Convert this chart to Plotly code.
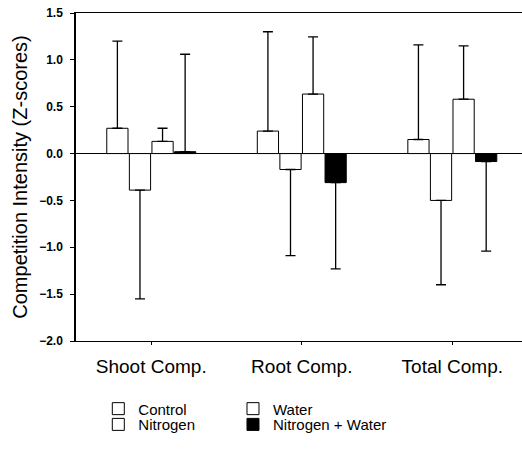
import plotly.graph_objects as go

# Competition intensity (Z-scores) by treatment, mean and one-sided error
categories = ["Shoot Comp.", "Root Comp.", "Total Comp."]

control = [0.27, 0.24, 0.15]
control_err = [0.93, 1.06, 1.01]

nitrogen = [-0.39, -0.17, -0.50]
nitrogen_err = [1.16, 0.92, 0.90]

water = [0.13, 0.635, 0.58]
water_err = [0.14, 0.61, 0.57]

nitro_water = [0.02, -0.31, -0.085]
nitro_water_err = [1.04, 0.92, 0.955]

y_ticks = [-2.0, -1.5, -1.0, -0.5, 0.0, 0.5, 1.0, 1.5]

FONT = "Liberation Sans, Arial, sans-serif"


def one_sided(values, errs):
    """Error drawn away from zero: up for positive bars, down for negative."""
    up = [e if v >= 0 else 0 for v, e in zip(values, errs)]
    down = [e if v < 0 else 0 for v, e in zip(values, errs)]
    return dict(type="data", symmetric=False, array=up, arrayminus=down,
                color="black", thickness=1.3, width=5)


# each legend entry gets its own box so the key reads as a 2x2 grid
series = [
    ("Control", control, control_err, "white", "legend"),
    ("Nitrogen", nitrogen, nitrogen_err, "white", "legend2"),
    ("Water", water, water_err, "white", "legend3"),
    ("Nitrogen + Water", nitro_water, nitro_water_err, "black", "legend4"),
]

fig = go.Figure()
for name, vals, errs, fill, leg in series:
    fig.add_trace(go.Bar(
        x=categories, y=vals, name=name, legend=leg, showlegend=True,
        marker=dict(color=fill, line=dict(color="black", width=1)),
        error_y=one_sided(vals, errs),
    ))

legend_common = dict(
    orientation="v", xanchor="left", yanchor="middle",
    font=dict(family=FONT, size=15, color="black"),
    bgcolor="rgba(0,0,0,0)", borderwidth=0,
    itemclick=False, itemdoubleclick=False,
)
col1, col2 = 0.05, 0.352
row1, row2 = -0.207, -0.255

fig.update_layout(
    width=522, height=455,
    margin=dict(l=76, r=0, t=13, b=114),
    paper_bgcolor="white", plot_bgcolor="white",
    showlegend=True,
    barmode="group", bargap=0.40, bargroupgap=0.06,
    font=dict(family=FONT, color="black"),
    legend=dict(x=col1, y=row1, **legend_common),
    legend2=dict(x=col1, y=row2, **legend_common),
    legend3=dict(x=col2, y=row1, **legend_common),
    legend4=dict(x=col2, y=row2, **legend_common),
    xaxis=dict(
        range=[-0.5, 2.463], showline=True, linecolor="black", linewidth=1.2,
        mirror=True, ticks="outside", ticklen=3, tickcolor="black",
        tickfont=dict(family=FONT, size=19), ticklabelstandoff=5,
        showgrid=False, zeroline=False,
    ),
    yaxis=dict(
        range=[-2.0, 1.5], tickvals=y_ticks, tickformat=".1f",
        showline=True, linecolor="black", linewidth=1.5,
        ticks="outside", ticklen=4, tickcolor="black",
        tickfont=dict(family=FONT, size=12, weight="bold"),
        ticklabelstandoff=5,
        showgrid=False, zeroline=True, zerolinecolor="black", zerolinewidth=1.2,
        title=dict(text="Competition Intensity (Z-scores)",
                   font=dict(family=FONT, size=20), standoff=6),
    ),
)

fig.write_html("out.html")
